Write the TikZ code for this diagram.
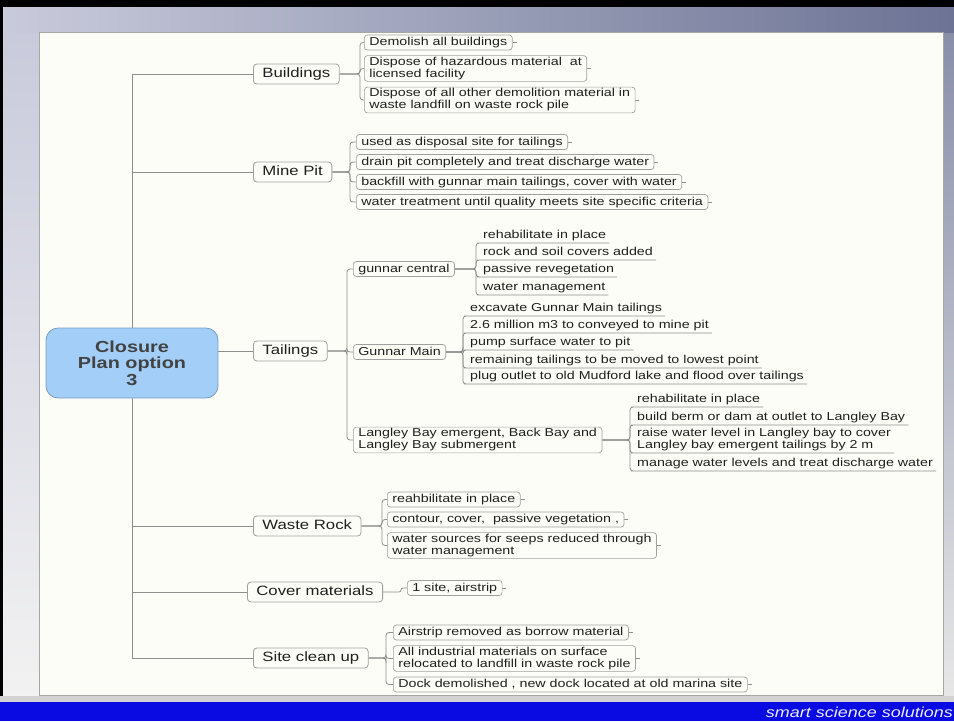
\documentclass[tikz,border=0pt]{standalone}
\usepackage{fontspec}
\setmainfont{Liberation Sans}[FakeStretch=1.24]
\usetikzlibrary{calc}

\definecolor{paper}{HTML}{FDFDF7}
\definecolor{linegray}{HTML}{8E8E8E}
\definecolor{boxgray}{HTML}{A0A0A0}
\definecolor{ink}{HTML}{202020}
\definecolor{rootfill}{HTML}{A2CEF8}
\definecolor{rootline}{HTML}{7C9EC4}
\definecolor{barblue}{HTML}{0A0AE2}
\definecolor{skyL}{HTML}{C9CBDC}
\definecolor{skyR}{HTML}{6C7394}

\pgfdeclarelayer{back}
\pgfdeclarelayer{links}
\pgfsetlayers{back,links,main}

\tikzset{
  conn/.style = {draw=linegray, line width=.8pt},
  hook/.style = {conn, rounded corners=3pt},
  leafbox/.style = {draw=boxgray, fill=paper, rounded corners=3pt, line width=.7pt,
    inner xsep=5pt, inner ysep=2pt, anchor=west, text=ink, font=\fontsize{11.5}{12}\selectfont},
  leaf/.style = {leafbox, text height=8.5pt, text depth=2.5pt},
  leaftwo/.style = {leafbox, align=left, inner ysep=1.5pt},
  uline/.style = {anchor=south west, inner xsep=3pt, inner ysep=1.5pt, text=ink,
    font=\fontsize{11.5}{12}\selectfont, text height=8.5pt, text depth=2.5pt},
  ulinetwo/.style = {anchor=south west, inner xsep=3pt, inner ysep=1.5pt, text=ink,
    font=\fontsize{11.5}{12}\selectfont, align=left},
  branch/.style = {draw=boxgray, fill=paper, rounded corners=3.5pt, line width=.8pt,
    anchor=west, inner xsep=9pt, inner ysep=3.5pt, text height=10pt, text depth=3pt,
    text=ink, font=\fontsize{13.5}{14}\selectfont},
  rootbox/.style = {draw=rootline, fill=rootfill, rounded corners=12pt, line width=.8pt,
    minimum width=172pt, minimum height=70pt, align=center, text=ink!85,
    font=\fontsize{16}{16.7}\selectfont\bfseries}
}

\begin{document}
\begin{tikzpicture}[x=1pt, y=-1pt]

  \useasboundingbox (0,0) rectangle (954,721);

  % slide backdrop
  \begin{pgfonlayer}{back}
    \fill [gray!12] (0,0) rectangle (954,721);
    \fill [left color=skyL, right color=skyR] (0,0) rectangle (954,33);
    \fill [top color=skyL, bottom color=gray!10] (0,33) rectangle (39,702);
    \fill [top color=skyR!80, bottom color=gray!18] (943,33) rectangle (954,702);
    \fill [black] (0,0) rectangle (954,7);
    \fill [black] (0,0) rectangle (3,702);
    \fill [paper, draw=gray!70, line width=.6pt] (39,32) rectangle (943,695);
    \fill [gray!35] (0,696) rectangle (954,702);
    \fill [barblue] (0,702) rectangle (954,721);
  \end{pgfonlayer}

  \node [anchor=base east, inner xsep=0pt, text=blue!8, font=\fontsize{14.5}{15}\selectfont\itshape] (tag) at (953,717) {smart science solutions};

  % root and main branches
  \node [rootbox] (root) at (132,363) {Closure\\Plan option\\3};

  \node [branch] (bld)   at (253,74)  {Buildings};
  \node [branch] (pit)   at (253,172) {Mine Pit};
  \node [branch] (tail)  at (253,351) {Tailings};
  \node [branch] (rock)  at (253,526) {Waste Rock};
  \node [branch] (cover) at (247,592) {Cover materials};
  \node [branch] (clean) at (253,658) {Site clean up};

  % buildings
  \node [leaf]    (b1) at (364,42.5) {Demolish all buildings};
  \node [leaftwo] (b2) at (364,68.5) {Dispose of hazardous material~ at\\licensed facility};
  \node [leaftwo] (b3) at (364,100)  {Dispose of all other demolition material in\\waste landfill on waste rock pile};

  % mine pit
  \foreach \n/\y/\t in {p1/142/used as disposal site for tailings,
                        p2/162/drain pit completely and treat discharge water,
                        p3/182/{backfill with gunnar main tailings, cover with water},
                        p4/202/water treatment until quality meets site specific criteria}
    \node [leaf] (\n) at (356,\y) {\t};

  % tailings
  \node [leaf]    (gc) at (353,269) {gunnar central};
  \node [leaf]    (gm) at (353,352) {Gunnar Main};
  \node [leaftwo] (lb) at (353,440) {Langley Bay emergent, Back Bay and\\Langley Bay submergent};

  \foreach \n/\y/\t in {c1/243/rehabilitate in place, c2/260/rock and soil covers added,
                        c3/277/passive revegetation, c4/295/water management}
    \node [uline] (\n) at (480,\y) {\t};

  \foreach \n/\y/\t in {g1/316/excavate Gunnar Main tailings,
                        g2/333/2.6 million m3 to conveyed to mine pit,
                        g3/350/pump surface water to pit,
                        g4/368/remaining tailings to be moved to lowest point,
                        g5/384/plug outlet to old Mudford lake and flood over tailings}
    \node [uline] (\n) at (467,\y) {\t};

  \node [uline]    (l1) at (634,407) {rehabilitate in place};
  \node [uline]    (l2) at (634,425) {build berm or dam at outlet to Langley Bay};
  \node [ulinetwo] (l3) at (634,453) {raise water level in Langley bay to cover\\Langley bay emergent tailings by 2 m};
  \node [uline]    (l4) at (634,471) {manage water levels and treat discharge water};

  % waste rock, cover, clean up
  \node [leaf]    (r1) at (387,499.5) {reahbilitate in place};
  \node [leaf]    (r2) at (387,519.5) {contour, cover,~ passive vegetation ,};
  \node [leaftwo] (r3) at (387,545.5) {water sources for seeps reduced through\\water management};

  \node [leaf] (m1) at (407,588) {1 site, airstrip};

  \node [leaf]    (s1) at (393,632.5) {Airstrip removed as borrow material};
  \node [leaftwo] (s2) at (393,658.5) {All industrial materials on surface\\relocated to landfill in waste rock pile};
  \node [leaf]    (s3) at (393,684.5) {Dock demolished , new dock located at old marina site};

  % connectors
  \begin{pgfonlayer}{links}
    \foreach \n in {bld,pit,tail,rock,cover,clean}
      \draw [conn] (root) |- (\n.west);

    \foreach \n in {b1,b2,b3}
      \draw [hook] (bld.east) -| ([xshift=-4pt]\n.west) -- (\n.west);
    \foreach \n in {p1,p2,p3,p4}
      \draw [hook] (pit.east) -| ([xshift=-6pt]\n.west) -- (\n.west);
    \foreach \n in {gc,gm,lb}
      \draw [hook] (tail.east) -| ([xshift=-6pt]\n.west) -- (\n.west);
    \foreach \n in {c1,c2,c3,c4}
      \draw [hook] (gc.east) -| ([xshift=-4pt]\n.south west) -- (\n.south west) -- (\n.south east);
    \foreach \n in {g1,g2,g3,g4,g5}
      \draw [hook] (gm.east) -| ([xshift=-4pt]\n.south west) -- (\n.south west) -- (\n.south east);
    \foreach \n in {l1,l2,l3,l4}
      \draw [hook] (lb.east) -| ([xshift=-4pt]\n.south west) -- (\n.south west) -- (\n.south east);
    \foreach \n in {r1,r2,r3}
      \draw [hook] (rock.east) -| ([xshift=-5pt]\n.west) -- (\n.west);
    \draw [hook, rounded corners=2pt] (cover.east) -| ([xshift=-6pt]m1.west) -- (m1.west);
    \foreach \n in {s1,s2,s3}
      \draw [hook] (clean.east) -| ([xshift=-7pt]\n.west) -- (\n.west);

    % little stubs on the right of the boxes
    \foreach \n in {b1,b2,b3,p1,p2,p3,p4,r1,r2,r3,m1,s1,s2,s3}
      \draw [conn] (\n.east) -- ++(4,0);
  \end{pgfonlayer}

\end{tikzpicture}
\end{document}
